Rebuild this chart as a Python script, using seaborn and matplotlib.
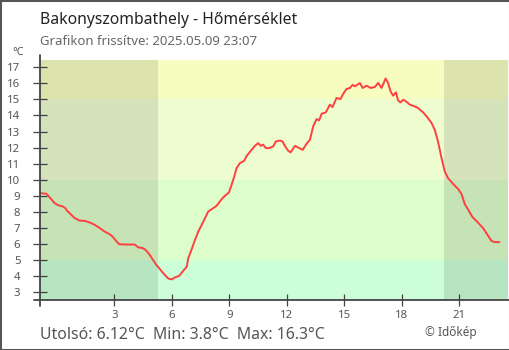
import matplotlib
matplotlib.use("Agg")
import matplotlib.pyplot as plt
from matplotlib.lines import Line2D
from matplotlib.patches import Rectangle
import seaborn as sns
import pandas as pd

# Hourly temperature readings (hour of day, °C); negative hours belong to the previous evening
hours = [-0.88, -0.55, -0.46, -0.29, -0.11, 0.06, 0.32, 0.45, 0.52, 0.67, 0.93, 1.19, 1.46, 1.72,
         1.98, 2.24, 2.50, 2.76, 2.93, 3.10, 3.25, 3.54, 4.06, 4.24, 4.50, 4.67, 4.85, 5.02, 5.19,
         5.30, 5.56, 5.82, 5.99, 6.17, 6.38, 6.60, 6.78, 6.86, 7.04, 7.21, 7.38, 7.56, 7.73, 7.90,
         8.08, 8.34, 8.60, 8.77, 8.98, 9.12, 9.26, 9.38, 9.56, 9.78, 9.91, 10.17, 10.34, 10.51,
         10.64, 10.77, 10.91, 11.09, 11.21, 11.29, 11.43, 11.64, 11.78, 11.90, 12.08, 12.20, 12.43,
         12.65, 12.83, 13.04, 13.21, 13.38, 13.56, 13.69, 13.82, 14.04, 14.25, 14.39, 14.60, 14.81,
         14.95, 15.12, 15.30, 15.44, 15.56, 15.82, 15.96, 16.17, 16.38, 16.60, 16.77, 16.95, 17.16,
         17.29, 17.42, 17.55, 17.70, 17.81, 17.94, 18.08, 18.22, 18.43, 18.69, 18.86, 19.12, 19.33,
         19.56, 19.73, 19.90, 20.08, 20.25, 20.42, 20.68, 20.95, 21.12, 21.29, 21.47, 21.70, 21.99,
         22.25, 22.51, 22.69, 22.86, 23.10]
temps = [9.17, 9.13, 9.02, 8.79, 8.54, 8.42, 8.33, 8.22, 8.08, 7.92, 7.61, 7.46, 7.44, 7.34,
         7.19, 6.99, 6.77, 6.61, 6.43, 6.19, 5.99, 5.97, 5.97, 5.80, 5.74, 5.59, 5.32, 5.01, 4.70,
         4.56, 4.18, 3.85, 3.80, 3.93, 4.01, 4.34, 4.59, 5.12, 5.68, 6.26, 6.77, 7.19, 7.61, 8.02,
         8.17, 8.38, 8.79, 9.00, 9.20, 9.68, 10.20, 10.72, 11.04, 11.18, 11.49, 11.86, 12.11, 12.28,
         12.11, 12.18, 11.97, 11.97, 12.03, 12.07, 12.38, 12.44, 12.38, 12.11, 11.80, 11.70, 12.11,
         11.97, 11.86, 12.24, 12.49, 13.32, 13.78, 13.69, 14.11, 14.19, 14.67, 14.52, 15.09, 15.02,
         15.35, 15.65, 15.71, 15.91, 15.81, 16.02, 15.71, 15.85, 15.71, 15.77, 16.02, 15.71, 16.30,
         16.02, 15.50, 15.23, 15.44, 14.94, 14.81, 14.98, 14.88, 14.67, 14.56, 14.46, 14.19, 13.90,
         13.53, 13.10, 12.35, 11.35, 10.51, 10.10, 9.75, 9.42, 9.12, 8.50, 8.13, 7.67, 7.33,
         6.99, 6.51, 6.19, 6.12, 6.12]

x_ticks = [3, 6, 9, 12, 15, 18, 21]
y_ticks = list(range(3, 18))

# Temperature colour bands (lower edge, upper edge, colour)
band_edges = [2.5, 5, 10, 15, 17.45]
band_colors = ["#ccffd7", "#ddfdcb", "#eefdd0", "#f7fdc0"]

# Night periods (before sunrise, after sunset)
sunrise, sunset = 5.28, 20.2

title = "Bakonyszombathely - Hőmérséklet"
subtitle = "Grafikon frissítve: 2025.05.09 23:07"
last_val, min_val, max_val = 6.12, 3.8, 16.3

sns.set_style("white")
plt.rcParams["font.family"] = ["Noto Sans", "DejaVu Sans"]

W, H = 510, 350
fig = plt.figure(figsize=(W / 100, H / 100), dpi=100)
L, R, T, B = 40, 508, 60, 300.3
ax = fig.add_axes([L / W, 1 - B / H, (R - L) / W, (B - T) / H])

xlim = (-0.88, 23.55)
ylim = (band_edges[0], band_edges[-1])

for lo, hi, c in zip(band_edges[:-1], band_edges[1:], band_colors):
    ax.axhspan(lo, hi, color=c, lw=0, zorder=0)
ax.axvspan(xlim[0], sunrise, color="black", alpha=0.1, lw=0, zorder=1)
ax.axvspan(sunset, xlim[1], color="black", alpha=0.1, lw=0, zorder=1)

df = pd.DataFrame({"hour": hours, "temp": temps})
sns.lineplot(data=df, x="hour", y="temp", color="#ff4040", lw=1.4, ax=ax, zorder=3)

ax.set_xlim(*xlim)
ax.set_ylim(*ylim)
ax.set_xticks(x_ticks)
ax.set_yticks(y_ticks)
ax.set_xlabel("")
ax.set_ylabel("")
for s in ax.spines.values():
    s.set_visible(False)

axis_col = "#444444"
ax.tick_params(axis="both", which="major", direction="inout", color=axis_col, width=0.9,
               labelcolor="#555555", labelsize=8.2)
ax.tick_params(axis="y", length=9.4, pad=9.5, left=True)
ax.tick_params(axis="x", length=8.6, pad=2.5, bottom=True)

# Axis lines, slightly overshooting the plot area
ax.add_line(Line2D([0, 0], [-6 / 240, 1 + 5 / 240], transform=ax.transAxes, color=axis_col,
                   lw=1.3, clip_on=False, zorder=5))
ax.add_line(Line2D([-6 / 468, 1.01], [0, 0], transform=ax.transAxes, color=axis_col,
                   lw=1.3, clip_on=False, zorder=5))

fig.text(L / W, 1 - 24.3 / H, title, fontsize=11.3, color="#222222", va="baseline", ha="left")
fig.text(L / W, 1 - 45 / H, subtitle, fontsize=9.5, color="#666666", va="baseline", ha="left")
fig.text(12 / W, 1 - 55 / H, "°C", fontsize=7.8, color="#555555", va="baseline", ha="left")
fig.text(L / W, 1 - 339.3 / H,
         f"Utolsó: {last_val:.2f}°C  Min: {min_val:.1f}°C  Max: {max_val:.1f}°C",
         fontsize=11.4, color="#555555", va="baseline", ha="left")
fig.text(425 / W, 1 - 336 / H, "© Időkép", fontsize=8.5, color="#555555", va="baseline", ha="left")

# Frame around the whole figure
fig.patches.append(Rectangle((0, 0), 1, 1, transform=fig.transFigure, fill=False,
                             edgecolor="#555555", lw=2.2))

fig.savefig("out.png", dpi=100)
